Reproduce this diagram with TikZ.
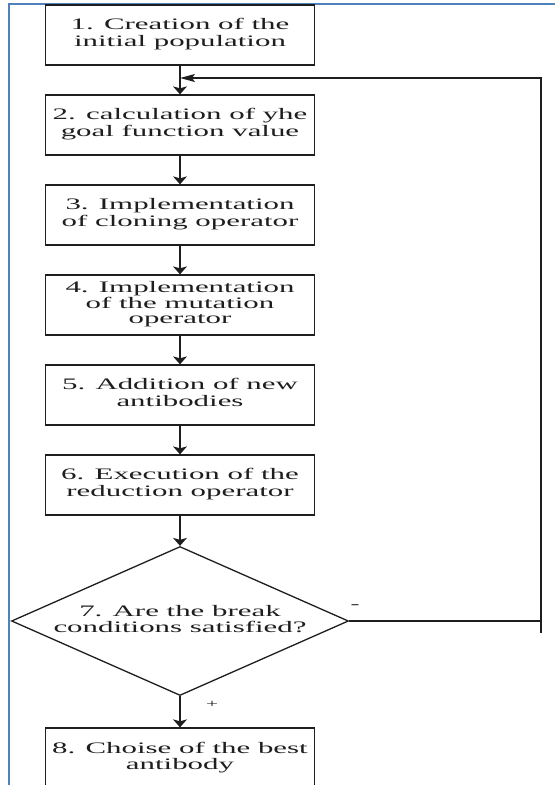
\documentclass[tikz,border=0pt]{standalone}
\usepackage{fontspec}
\setmainfont{Liberation Serif}
\usepackage{graphicx}
\usetikzlibrary{shapes.geometric,arrows.meta}
\definecolor{frameblue}{RGB}{79,129,189}
\definecolor{ink}{RGB}{30,30,30}
\newcommand{\wtext}[2][17]{\scalebox{1.93}[1]{\fontsize{16}{#1}\selectfont\begin{tabular}{@{}c@{}}#2\end{tabular}}}
\begin{document}
\begin{tikzpicture}[x=1pt,y=-1pt,
  box/.style={draw=ink, line width=1.3pt, minimum width=269pt, minimum height=60pt, inner sep=0pt, text=ink},
  dec/.style={diamond, draw=ink, line width=1.3pt, minimum width=337pt, minimum height=149pt, inner sep=0pt, shape aspect=2.26, text=ink},
  plainline/.style={draw=ink, line width=1.3pt},
  flow/.style={plainline, -{Stealth[length=8pt,width=14pt,inset=2pt]}},
  back/.style={plainline, -{Stealth[length=15pt,width=8pt,inset=3pt]}},
  lab/.style={text=ink, inner sep=0pt}]
\useasboundingbox (0,0) rectangle (555,785);
\fill[white] (0,0) rectangle (555,785);
% blue frame
\draw[frameblue, line width=2pt] (555,4) -- (9,4) -- (9,785);
% nodes
\node[box] (b1) at (180,35) {\wtext{1. Creation of the\\initial population}};
\node[box] (b2) at (180,125) {\wtext{2. calculation of yhe\\goal function value}};
\node[box] (b3) at (180,215) {\wtext{3. Implementation\\of cloning operator}};
\node[box] (b4) at (180,305) {\wtext[15.5]{4. Implementation\\of the mutation\\operator}};
\node[box] (b5) at (180,395) {\wtext{5. Addition of new\\antibodies}};
\node[box] (b6) at (180,485) {\wtext{6. Execution of the\\reduction operator}};
\node[dec] (d) at (180,621) {\wtext[15]{7. Are the break\\conditions satisfied?}};
\node[box] (b8) at (180,758) {\wtext[16]{8. Choise of the best\\antibody}};
% labels
\node[lab] (minus) at (355,607) {\scalebox{1.93}[1]{\fontsize{14}{14}\selectfont -}};
\node[lab] (plus) at (212,704) {\scalebox{1.93}[1]{\fontsize{11}{11}\selectfont +}};
% connectors
\coordinate (junc) at (180,78);
\coordinate (fbc) at (541,621);
\coordinate (fbt) at (541,78);
\coordinate (fbtail) at (541,633);
\draw[plainline] (b1.south) -- (junc);
\draw[flow] (junc) -- (b2.north);
\draw[flow] (b2.south) -- (b3.north);
\draw[flow] (b3.south) -- (b4.north);
\draw[flow] (b4.south) -- (b5.north);
\draw[flow] (b5.south) -- (b6.north);
\draw[flow] (b6.south) -- (d.north);
\draw[flow] (d.south) -- (b8.north);
\draw[back] (d.east) -- (fbc) -- (fbt) -- (junc);
\draw[plainline] (fbc) -- (fbtail);
\end{tikzpicture}
\end{document}
